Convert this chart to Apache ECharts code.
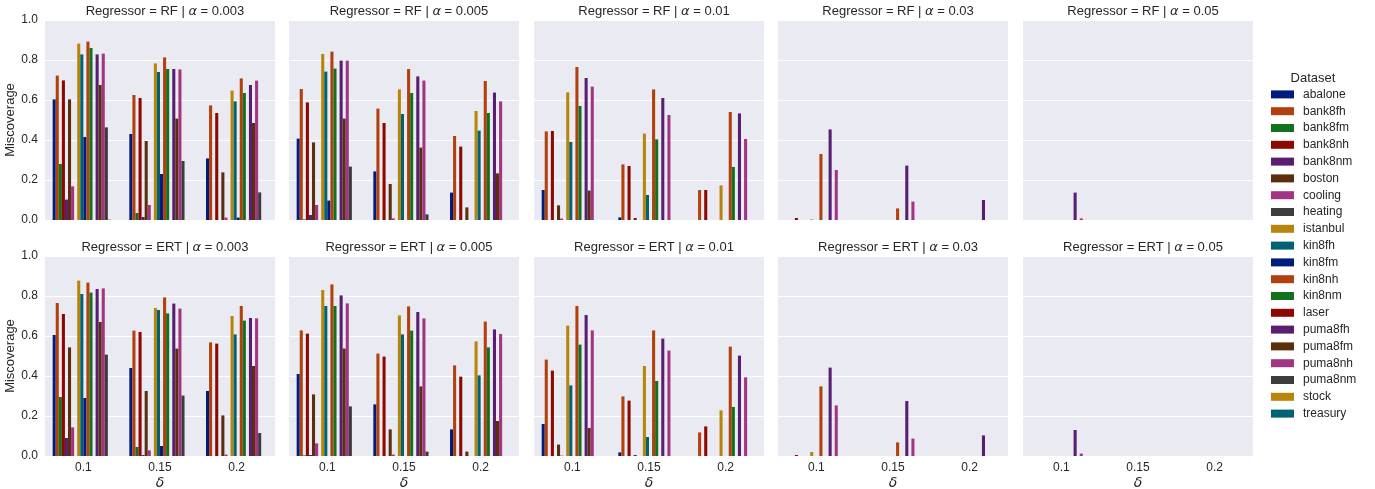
<!DOCTYPE html>
<html>
<head>
<meta charset="utf-8">
<script src="https://cdn.jsdelivr.net/npm/echarts@6/dist/echarts.min.js"></script>
<style>
html,body{margin:0;padding:0;background:#fff;}
#chart{width:1375px;height:489px;}
</style>
</head>
<body>
<div id="chart"></div>
<script>
// ---- data ----
const deltas = ['0.1', '0.15', '0.2'];
const datasets = ['abalone','bank8fh','bank8fm','bank8nh','bank8nm','boston','cooling','heating','istanbul','kin8fh','kin8fm','kin8nh','kin8nm','laser','puma8fh','puma8fm','puma8nh','puma8nm','stock','treasury'];
const regressors = ['RF', 'ERT'];
const alphas = ['0.003', '0.005', '0.01', '0.03', '0.05'];
const yTicks = [0, 0.2, 0.4, 0.6, 0.8, 1.0];

// each row: one dataset, values for delta = 0.1, 0.15, 0.2
const rf_003 = [
  [0.603,0.430,0.308],[0.722,0.625,0.573],[0.280,0.035,0],[0.698,0.610,0.535],[0.102,0.015,0],
  [0.603,0.395,0.238],[0.168,0.075,0.012],[0,0,0],[0.882,0.783,0.647],[0.828,0.740,0.593],
  [0.415,0.230,0.012],[0.892,0.813,0.708],[0.860,0.755,0.635],[0,0,0],[0.828,0.755,0.675],
  [0.675,0.507,0.485],[0.832,0.753,0.697],[0.463,0.295,0.138],[0.003,0,0],[0,0,0]
];
const rf_005 = [
  [0.407,0.243,0.137],[0.655,0.557,0.420],[0.003,0,0],[0.588,0.485,0.367],[0.025,0,0],
  [0.388,0.180,0.063],[0.075,0.008,0],[0,0,0],[0.830,0.653,0.545],[0.742,0.530,0.447],
  [0.097,0,0],[0.842,0.755,0.695],[0.757,0.635,0.535],[0,0,0],[0.797,0.718,0.637],
  [0.507,0.362,0.233],[0.797,0.697,0.593],[0.267,0.028,0],[0,0,0],[0,0,0]
];
const rf_01 = [
  [0.150,0.013,0],[0.443,0.278,0.150],[0,0,0],[0.445,0.270,0.150],[0,0,0],
  [0.073,0.010,0],[0.007,0,0],[0,0,0],[0.638,0.432,0.173],[0.390,0.125,0],
  [0,0,0],[0.765,0.653,0.540],[0.570,0.403,0.265],[0,0,0],[0.710,0.610,0.533],
  [0.147,0,0],[0.667,0.525,0.405],[0,0,0],[0,0,0],[0,0,0]
];
const rf_03 = [
  [0,0,0],[0,0,0],[0,0,0],[0.010,0,0],[0,0,0],
  [0,0,0],[0,0,0],[0,0,0],[0.003,0,0],[0,0,0],
  [0,0,0],[0.330,0.058,0],[0,0,0],[0,0,0],[0.453,0.272,0.100],
  [0,0,0],[0.250,0.092,0],[0,0,0],[0,0,0],[0,0,0]
];
const rf_05 = [
  [0,0,0],[0,0,0],[0,0,0],[0,0,0],[0,0,0],
  [0,0,0],[0,0,0],[0,0,0],[0,0,0],[0,0,0],
  [0,0,0],[0,0,0],[0,0,0],[0,0,0],[0.137,0,0],
  [0,0,0],[0.008,0,0],[0,0,0],[0,0,0],[0,0,0]
];
const ert_003 = [
  [0.605,0.440,0.325],[0.765,0.627,0.568],[0.295,0.045,0],[0.710,0.620,0.562],[0.090,0.005,0],
  [0.543,0.325,0.203],[0.143,0.028,0.007],[0,0,0],[0.877,0.740,0.700],[0.810,0.730,0.608],
  [0.290,0.050,0],[0.867,0.793,0.750],[0.817,0.713,0.677],[0,0,0],[0.835,0.762,0.690],
  [0.670,0.537,0.450],[0.838,0.737,0.688],[0.507,0.302,0.115],[0,0,0],[0,0,0]
];
const ert_005 = [
  [0.410,0.258,0.133],[0.628,0.512,0.453],[0.003,0,0],[0.612,0.497,0.397],[0.005,0,0],
  [0.308,0.133,0.022],[0.063,0.007,0],[0,0,0],[0.830,0.703,0.573],[0.750,0.608,0.403],
  [0,0,0],[0.858,0.748,0.672],[0.750,0.627,0.543],[0,0,0],[0.803,0.720,0.633],
  [0.537,0.348,0.175],[0.763,0.688,0.610],[0.248,0.022,0],[0,0,0],[0,0,0]
];
const ert_01 = [
  [0.160,0.018,0],[0.482,0.298,0.118],[0,0,0],[0.427,0.277,0.148],[0,0,0],
  [0.057,0.005,0],[0.002,0,0],[0,0,0],[0.652,0.450,0.228],[0.353,0.095,0],
  [0,0,0],[0.750,0.628,0.547],[0.557,0.375,0.245],[0,0,0],[0.705,0.587,0.502],
  [0.140,0,0],[0.628,0.527,0.393],[0,0,0],[0,0,0],[0,0,0]
];
const ert_03 = [
  [0,0,0],[0,0,0],[0,0,0],[0.005,0,0],[0,0,0],
  [0,0,0],[0,0,0],[0,0,0],[0.020,0,0],[0,0,0],
  [0,0,0],[0.348,0.068,0],[0,0,0],[0,0,0],[0.442,0.275,0.103],
  [0,0,0],[0.253,0.087,0],[0,0,0],[0,0,0],[0,0,0]
];
const ert_05 = [
  [0,0,0],[0,0,0],[0,0,0],[0,0,0],[0,0,0],
  [0,0,0],[0,0,0],[0,0,0],[0,0,0],[0,0,0],
  [0,0,0],[0,0,0],[0,0,0],[0,0,0],[0.130,0,0],
  [0,0,0],[0.012,0,0],[0,0,0],[0,0,0],[0,0,0]
];
const panelData = [[rf_003, rf_005, rf_01, rf_03, rf_05], [ert_003, ert_005, ert_01, ert_03, ert_05]];

// ---- styling ----
const palette = ['#001c7f','#b1400d','#12711c','#8c0800','#591e71','#592f0d','#a23582','#3c3c3c','#b8850a','#006374'];
const FONT = 'Liberation Sans, Arial, sans-serif';
const TXT = '#262626';
const colLeft = [45, 289, 534, 778, 1023];
const panelW = 230;
const rowTop = [20, 256];
const panelH = 200;

const grids = [], xAxes = [], yAxes = [], series = [], titles = [];
let idx = 0;
for (let r = 0; r < 2; r++) {
  for (let c = 0; c < 5; c++) {
    grids.push({left: colLeft[c], top: rowTop[r], width: panelW, height: panelH,
      show: true, backgroundColor: '#EAEAF2', borderWidth: 0, containLabel: false,
      outerBoundsMode: 'none'});
    xAxes.push({type: 'category', gridIndex: idx, data: deltas,
      axisLine: {show: false}, axisTick: {show: false},
      axisLabel: {show: r === 1, color: TXT, fontSize: 12, fontFamily: FONT, margin: 6},
      splitLine: {show: false},
      name: r === 1 ? 'δ' : '', nameLocation: 'middle', nameGap: 20,
      nameTextStyle: {color: TXT, fontSize: 14, fontStyle: 'italic', fontFamily: 'DejaVu Sans, sans-serif'}});
    yAxes.push({type: 'value', gridIndex: idx, min: 0, max: 1, interval: 0.2,
      axisLine: {show: false}, axisTick: {show: false},
      axisLabel: {show: c === 0, color: TXT, fontSize: 12, fontFamily: FONT, margin: 7,
        formatter: v => v.toFixed(1)},
      splitLine: {show: true, lineStyle: {color: '#ffffff', width: 1}},
      name: c === 0 ? 'Miscoverage' : '', nameLocation: 'middle', nameGap: 23, nameRotate: 90,
      nameTextStyle: {color: TXT, fontSize: 13, fontFamily: FONT}});
    titles.push({text: '{n|Regressor = ' + regressors[r] + ' | }{i|α}{n| = ' + alphas[c] + '}',
      left: colLeft[c] + panelW / 2, top: rowTop[r] - 20, textAlign: 'center',
      textStyle: {fontWeight: 'normal', rich: {
        n: {fontSize: 13, color: TXT, fontFamily: FONT, fontWeight: 'normal'},
        i: {fontSize: 13, color: TXT, fontFamily: 'DejaVu Sans, sans-serif', fontStyle: 'italic', fontWeight: 'normal'}}}});
    const pd = panelData[r][c];
    datasets.forEach((name, d) => {
      series.push({type: 'bar', name: name, xAxisIndex: idx, yAxisIndex: idx,
        data: pd[d], barGap: '0%', barCategoryGap: '20%',
        itemStyle: {color: palette[d % 10]}, silent: true, animation: false});
    });
    idx++;
  }
}
titles.push({text: 'Dataset', left: 1308, top: 67, textAlign: 'center',
  textStyle: {fontSize: 13, fontWeight: 'normal', color: TXT, fontFamily: FONT}});

const chart = echarts.init(document.getElementById('chart'), null, {renderer: 'canvas'});
chart.setOption({
  animation: false,
  backgroundColor: '#ffffff',
  title: titles,
  grid: grids,
  xAxis: xAxes,
  yAxis: yAxes,
  legend: {
    data: datasets, orient: 'vertical', left: 1266, top: 81,
    itemWidth: 23, itemHeight: 8, itemGap: 0, icon: 'rect',
    textStyle: {color: TXT, fontSize: 12, fontFamily: FONT, lineHeight: 16.8, padding: [0, 0, 0, 4]},
    selectedMode: false
  },
  series: series
});
</script>
</body>
</html>
